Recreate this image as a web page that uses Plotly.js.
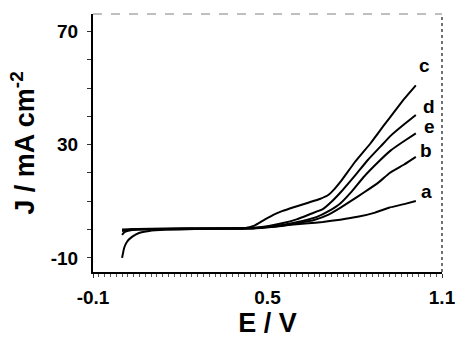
<!DOCTYPE html>
<html>
<head>
<meta charset="utf-8">
<script src="https://cdn.plot.ly/plotly-3.0.1.min.js"></script>
<style>html,body{margin:0;padding:0;background:#fff;}#chart{width:455px;height:338px;}</style>
</head>
<body>
<div id="chart"></div>
<script>
// Data (E in V, J in mA cm^-2)
var E_a = [0.0, 0.007, 0.017, 0.034, 0.058, 0.093, 0.15, 0.25, 0.35, 0.45, 0.52, 0.58, 0.64, 0.69, 0.75, 0.81, 0.87, 0.92, 0.97, 1.01];
var J_a = [-10, -6.5, -4.3, -2.6, -1.2, -0.5, -0.1, 0.2, 0.3, 0.4, 1.0, 1.7, 2.2, 2.7, 3.5, 4.5, 6.0, 7.8, 9.0, 10.1];

var E_b = [0.0, 0.005, 0.012, 0.025, 0.05, 0.15, 0.3, 0.45, 0.5, 0.55, 0.6, 0.66, 0.71, 0.75, 0.79, 0.83, 0.88, 0.92, 0.97, 1.01];
var J_b = [-1.9, -1.2, -0.7, -0.3, 0.0, 0.2, 0.3, 0.5, 0.9, 1.3, 2.2, 3.4, 5.3, 7.7, 10.3, 13.0, 16.5, 20.0, 23.0, 25.7];

var E_c = [0.0, 0.05, 0.15, 0.3, 0.42, 0.455, 0.49, 0.52, 0.55, 0.59, 0.64, 0.68, 0.71, 0.73, 0.752, 0.8, 0.855, 0.9, 0.935, 0.97, 1.01];
var J_c = [0.0, 0.2, 0.3, 0.4, 0.5, 1.4, 3.5, 5.2, 6.5, 7.9, 9.5, 10.8, 12.3, 14.3, 17.0, 23.8, 30.6, 36.8, 41.5, 46.2, 51.0];

var E_d = [0.0, 0.05, 0.15, 0.3, 0.45, 0.5, 0.55, 0.6, 0.65, 0.69, 0.72, 0.75, 0.8, 0.845, 0.89, 0.924, 0.97, 1.01];
var J_d = [-0.3, 0.1, 0.3, 0.4, 0.6, 1.2, 2.2, 3.6, 5.6, 7.2, 9.8, 13.0, 19.0, 24.6, 29.5, 33.2, 37.2, 40.5];

var E_e = [0.0, 0.03, 0.1, 0.3, 0.45, 0.5, 0.55, 0.6, 0.67, 0.71, 0.75, 0.79, 0.83, 0.88, 0.924, 0.97, 1.01];
var J_e = [-0.5, 0.0, 0.2, 0.4, 0.5, 1.0, 1.6, 2.6, 4.5, 6.5, 9.2, 13.5, 18.5, 23.8, 28.0, 31.3, 34.0];

var seriesNames = ['a', 'b', 'c', 'd', 'e'];

var xTickVals = [-0.1, 0.5, 1.1];
var xTickText = ['-0.1', '0.5', '1.1'];
var yTickVals = [-10, 30, 70];
var yTickText = ['-10', '30', '70'];

var Es = [E_a, E_b, E_c, E_d, E_e];
var Js = [J_a, J_b, J_c, J_d, J_e];
// label offsets (px) from each curve's end point
var labShift = {a: [11, 9], b: [10, 6], c: [9, 20], d: [13, 8], e: [14, 7]};

var font = 'Liberation Sans, Arial, sans-serif';
var traces = [];
var annotations = [];
for (var i = 0; i < seriesNames.length; i++) {
  traces.push({
    x: Es[i], y: Js[i], type: 'scatter', mode: 'lines', name: seriesNames[i],
    line: {color: '#000', width: 2, shape: 'spline', smoothing: 0.3},
    hoverinfo: 'skip'
  });
  var n = Es[i].length - 1;
  var s = labShift[seriesNames[i]];
  annotations.push({
    x: Es[i][n], y: Js[i][n], xref: 'x', yref: 'y', text: seriesNames[i],
    showarrow: false, xshift: s[0], yshift: s[1], xanchor: 'center', yanchor: 'middle',
    font: {family: font, size: 19, color: '#000', weight: 'bold'}
  });
}

var layout = {
  width: 455, height: 338,
  margin: {l: 93, r: 13, t: 14, b: 66},
  paper_bgcolor: '#fff', plot_bgcolor: '#fff',
  showlegend: false,
  xaxis: {
    range: [-0.1, 1.1], tickmode: 'array', tickvals: xTickVals, ticktext: xTickText,
    ticks: 'outside', ticklen: 4, tickwidth: 1, tickcolor: '#333',
    minor: {dtick: 0.02, tick0: 0, ticks: 'outside', ticklen: 3, tickwidth: 1, tickcolor: '#555', showgrid: false},
    showgrid: false, zeroline: false, showline: true, linecolor: '#000', linewidth: 2,
    ticklabelstandoff: 3, ticklabeloverflow: 'allow',
    tickfont: {family: font, size: 19, color: '#000', weight: 'bold'},
    title: {text: 'E / V', standoff: 9, font: {family: font, size: 27, color: '#000', weight: 'bold'}}
  },
  yaxis: {
    range: [-15, 76.2], tickmode: 'array', tickvals: yTickVals, ticktext: yTickText,
    ticks: 'outside', ticklen: 4, tickwidth: 1, tickcolor: '#333',
    minor: {dtick: 10, tick0: 0, ticks: 'outside', ticklen: 4, tickwidth: 1, tickcolor: '#333', showgrid: false},
    showgrid: false, zeroline: false, showline: true, linecolor: '#000', linewidth: 2,
    ticklabelstandoff: 5,
    tickfont: {family: font, size: 19, color: '#000', weight: 'bold'},
    title: {text: 'J / mA cm<sup>-2</sup>', standoff: 8, font: {family: font, size: 27, color: '#000', weight: 'bold'}}
  },
  shapes: [
    {type: 'line', xref: 'paper', yref: 'paper', x0: 0, x1: 1, y0: 1, y1: 1,
     line: {color: '#aaa', width: 1.5, dash: 'dash'}},
    {type: 'line', xref: 'paper', yref: 'paper', x0: 1, x1: 1, y0: 0, y1: 1,
     line: {color: '#444', width: 1.5, dash: 'dot'}}
  ],
  annotations: annotations
};

Plotly.newPlot('chart', traces, layout, {displayModeBar: false, staticPlot: true});
</script>
</body>
</html>
